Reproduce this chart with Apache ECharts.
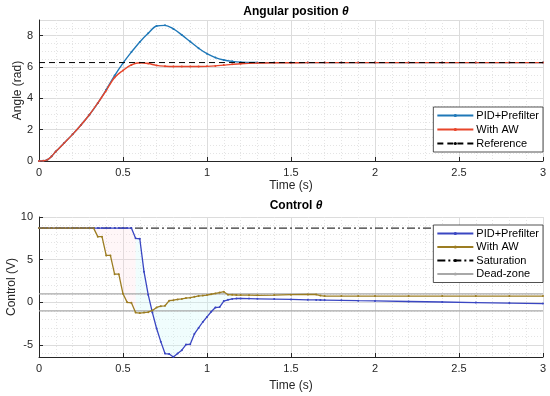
<!DOCTYPE html>
<html>
<head>
<meta charset="utf-8">
<script src="https://cdn.jsdelivr.net/npm/echarts@6/dist/echarts.min.js"></script>
<style>html,body{margin:0;padding:0;background:#fff}#c{width:550px;height:396px}</style>
</head>
<body>
<div id="c"></div>
<script>
// ---------- Data ----------
const tAngle = [0,0.025,0.05,0.075,0.1,0.15,0.2,0.25,0.3,0.35,0.4,0.45,0.5,0.55,0.6,0.65,0.7,0.75,0.8,0.85,0.9,0.95,1.0,1.05,1.1,1.15,1.2,1.3,1.4,1.5,1.6,1.7,1.8,1.9,2.0,2.2,2.4,2.6,2.8,3.0];
const anglePID = [0,0.01,0.08,0.3,0.6,1.15,1.7,2.3,2.95,3.7,4.55,5.45,6.25,6.95,7.6,8.15,8.62,8.66,8.43,8.05,7.62,7.2,6.85,6.6,6.45,6.36,6.31,6.285,6.28,6.28,6.28,6.28,6.28,6.28,6.28,6.28,6.28,6.28,6.28,6.28];
const angleAW  = [0,0.01,0.08,0.3,0.6,1.15,1.7,2.3,2.95,3.7,4.5,5.33,5.78,6.13,6.27,6.22,6.1,6.05,6.03,6.03,6.03,6.03,6.04,6.07,6.12,6.17,6.21,6.25,6.27,6.27,6.28,6.28,6.28,6.28,6.28,6.28,6.28,6.28,6.28,6.28];
const refTime = [0,3];
const refAngle = [6.283,6.283];

const tCtrl = [0,0.025,0.05,0.075,0.1,0.125,0.15,0.175,0.2,0.225,0.25,0.275,0.3,0.325,0.35,0.375,0.4,0.425,0.45,0.475,0.5,0.525,0.55,0.575,0.6,0.625,0.65,0.675,0.7,0.725,0.75,0.775,0.8,0.825,0.85,0.875,0.9,0.925,0.95,0.975,1.0,1.025,1.05,1.075,1.1,1.125,1.15,1.175,1.2,
  1.25,1.3,1.4,1.5,1.6,1.65,1.675,1.7,1.8,1.9,2.0,2.2,2.4,2.6,2.8,3.0];
const ctrlPID = [8.7,8.7,8.7,8.7,8.7,8.7,8.7,8.7,8.7,8.7,8.7,8.7,8.7,8.7,8.7,8.7,8.7,8.7,8.7,8.7,8.7,8.7,8.7,7.5,7.45,3.6,0.9,-1.2,-3.06,-4.6,-6.0,-6.05,-6.4,-6.0,-5.6,-4.95,-4.9,-3.7,-3.0,-2.3,-1.7,-1.1,-0.6,-0.55,0.15,0.3,0.4,0.45,0.45,
  0.44,0.42,0.38,0.34,0.3,0.29,0.28,0.27,0.24,0.2,0.17,0.1,0.04,-0.02,-0.08,-0.14];
const ctrlAW = [8.7,8.7,8.7,8.7,8.7,8.7,8.7,8.7,8.7,8.7,8.7,8.7,8.7,8.7,7.7,7.7,5.5,5.5,3.3,3.3,1.0,0.0,-0.05,-1.2,-1.25,-1.2,-1.15,-0.95,-0.6,-0.45,-0.4,0.2,0.25,0.35,0.4,0.5,0.55,0.65,0.75,0.8,0.86,0.95,1.05,1.15,1.25,0.9,0.88,0.86,0.85,
  0.84,0.83,0.85,0.9,0.92,0.92,0.8,0.74,0.74,0.74,0.74,0.74,0.74,0.74,0.74,0.74];
const satTime = [0,3];
const satValue = [8.7,8.7];
const deadTime = [0,3];
const deadUpper = [1,1];
const deadLower = [-1,-1];

// ---------- Build ----------
const zip = (xs, ys) => xs.map((x, i) => [x, ys[i]]);
const FONT = 'Liberation Sans, Arial, sans-serif';
const TXT = '#262626';

const shade = [];
for (let i = 0; i < tCtrl.length - 1; i++) {
  if (tCtrl[i] >= 1.15) break;
  shade.push([tCtrl[i], ctrlPID[i], ctrlAW[i], tCtrl[i+1], ctrlPID[i+1], ctrlAW[i+1]]);
}

function xAxisCfg(idx) {
  return {
    gridIndex: idx, type: 'value', min: 0, max: 3, interval: 0.5,
    name: 'Time (s)', nameLocation: 'middle', nameGap: idx === 0 ? 19 : 23, nameMoveOverlap: false,
    nameTextStyle: {fontFamily: FONT, fontSize: 12, color: TXT},
    axisLine: {show: true, onZero: false, lineStyle: {color: TXT, width: 1}},
    axisTick: {show: true, inside: true, length: 4, lineStyle: {color: TXT}},
    axisLabel: {fontFamily: FONT, fontSize: 11, color: TXT, margin: 6},
    splitLine: {show: true, lineStyle: {color: '#dcdcdc', width: 1}},
    minorTick: {show: false, splitNumber: 5},
    minorSplitLine: {show: true, lineStyle: {color: '#e4e4e4', type: [1, 2], width: 1}}
  };
}

const legendBase = {
  orient: 'vertical', right: 7, itemWidth: 36, itemHeight: 4, itemGap: 3,
  padding: [3, 4, 3, 3], backgroundColor: '#fff', borderColor: TXT, borderWidth: 0.8, borderRadius: 0,
  textStyle: {fontFamily: FONT, fontSize: 11, color: '#000', padding: [0, 0, 0, -2]},
  formatter: n => n.trim()
};

const titleRich = {b: {fontFamily: FONT, fontWeight: 'bold', fontSize: 12, color: '#000'},
                   i: {fontFamily: FONT, fontWeight: 'bold', fontStyle: 'italic', fontSize: 12, color: '#000'}};

const option = {
  animation: false,
  backgroundColor: '#fff',
  title: [
    {text: '{b|Angular position }{i|θ}', left: 291, top: 1, textAlign: 'center', textStyle: {rich: titleRich}},
    {text: '{b|Control }{i|θ}', left: 291, top: 195, textAlign: 'center', textStyle: {rich: titleRich}}
  ],
  grid: [
    {left: 39, right: 7, top: 20, height: 141, containLabel: false, outerBoundsMode: 'none'},
    {left: 39, right: 7, top: 217, height: 140, containLabel: false, outerBoundsMode: 'none'}
  ],
  xAxis: [xAxisCfg(0), xAxisCfg(1)],
  yAxis: [
    {gridIndex: 0, type: 'value', min: 0, max: 9, interval: 2,
     name: 'Angle (rad)', nameLocation: 'middle', nameGap: 15, nameMoveOverlap: false,
     nameTextStyle: {fontFamily: FONT, fontSize: 12, color: TXT},
     axisLine: {show: true, lineStyle: {color: TXT}},
     axisTick: {show: true, inside: true, length: 4, lineStyle: {color: TXT}},
     axisLabel: {fontFamily: FONT, fontSize: 11, color: TXT, margin: 6, showMaxLabel: false},
     splitLine: {show: true, lineStyle: {color: '#dcdcdc'}},
     minorSplitLine: {show: true, lineStyle: {color: '#e4e4e4', type: [1, 2]}},
     minorTick: {show: false, splitNumber: 4}},
    {gridIndex: 1, type: 'value', min: -6.4, max: 10, splitNumber: 3,
     name: 'Control (V)', nameLocation: 'middle', nameGap: 21, nameMoveOverlap: false,
     nameTextStyle: {fontFamily: FONT, fontSize: 12, color: TXT},
     axisLine: {show: true, onZero: false, lineStyle: {color: TXT}},
     axisTick: {show: true, inside: true, length: 4, lineStyle: {color: TXT}, customValues: [-5, 0, 5, 10]},
     axisLabel: {fontFamily: FONT, fontSize: 11, color: TXT, margin: 6, customValues: [-5, 0, 5, 10]},
     splitLine: {show: true, lineStyle: {color: '#dcdcdc'}},
     minorSplitLine: {show: true, lineStyle: {color: '#e4e4e4', type: [1, 2]}},
     minorTick: {show: false, splitNumber: 5}}
  ],
  legend: [
    Object.assign({}, legendBase, {top: 107, data: ['PID+Prefilter', 'With AW', 'Reference']}),
    Object.assign({}, legendBase, {top: 225, itemGap: 2.5, data: ['PID+Prefilter ', 'With AW ', 'Saturation', 'Dead-zone']})
  ],
  series: [
    {name: 'Reference', type: 'line', xAxisIndex: 0, yAxisIndex: 0, data: zip(refTime, refAngle),
     symbol: 'none', lineStyle: {color: '#000', width: 1, type: [6, 4]}, itemStyle: {color: '#000'}, z: 4},
    {name: 'PID+Prefilter', type: 'line', xAxisIndex: 0, yAxisIndex: 0, data: zip(tAngle, anglePID),
     smooth: 0.35, symbol: 'circle', symbolSize: 2, showAllSymbol: true,
     lineStyle: {color: '#1f78b8', width: 1.4}, itemStyle: {color: '#1f78b8'}, z: 3},
    {name: 'With AW', type: 'line', xAxisIndex: 0, yAxisIndex: 0, data: zip(tAngle, angleAW),
     smooth: 0.35, symbol: 'circle', symbolSize: 2, showAllSymbol: true,
     lineStyle: {color: '#e8452a', width: 1.4}, itemStyle: {color: '#e8452a'}, z: 3},

    {type: 'custom', xAxisIndex: 1, yAxisIndex: 1, data: shade, silent: true, z: 1,
     encode: {x: [0, 3], y: [1, 2, 4, 5]},
     renderItem: function (params, api) {
       const t0 = api.value(0), t1 = api.value(3);
       const p = [api.coord([t0, api.value(1)]), api.coord([t1, api.value(4)]),
                  api.coord([t1, api.value(5)]), api.coord([t0, api.value(2)])];
       return {type: 'polygon', shape: {points: p},
               style: {fill: t0 < 0.56 ? 'rgba(255,215,225,0.22)' : 'rgba(205,250,248,0.3)', stroke: null}};
     }},
    {name: 'Saturation', type: 'line', xAxisIndex: 1, yAxisIndex: 1, data: zip(satTime, satValue),
     symbol: 'none', lineStyle: {color: '#000', width: 1, type: [8, 3, 2, 3]}, itemStyle: {color: '#000'}, z: 2},
    {name: 'Dead-zone', type: 'line', xAxisIndex: 1, yAxisIndex: 1, data: zip(deadTime, deadUpper),
     symbol: 'none', lineStyle: {color: '#a8a8a8', width: 1.2}, itemStyle: {color: '#a8a8a8'}, z: 2},
    {name: 'Dead-zone', type: 'line', xAxisIndex: 1, yAxisIndex: 1, data: zip(deadTime, deadLower),
     symbol: 'none', lineStyle: {color: '#a8a8a8', width: 1.2}, itemStyle: {color: '#a8a8a8'}, z: 2},
    {name: 'PID+Prefilter ', type: 'line', xAxisIndex: 1, yAxisIndex: 1, data: zip(tCtrl, ctrlPID),
     symbol: 'circle', symbolSize: 2, showAllSymbol: true,
     lineStyle: {color: '#3a46c2', width: 1.3}, itemStyle: {color: '#3a46c2'}, z: 3},
    {name: 'With AW ', type: 'line', xAxisIndex: 1, yAxisIndex: 1, data: zip(tCtrl, ctrlAW),
     symbol: 'circle', symbolSize: 2, showAllSymbol: true,
     lineStyle: {color: '#9c7d22', width: 1.3}, itemStyle: {color: '#9c7d22'}, z: 3}
  ]
};

const chart = echarts.init(document.getElementById('c'), null, {renderer: 'canvas'});
chart.setOption(option);
</script>
</body>
</html>
